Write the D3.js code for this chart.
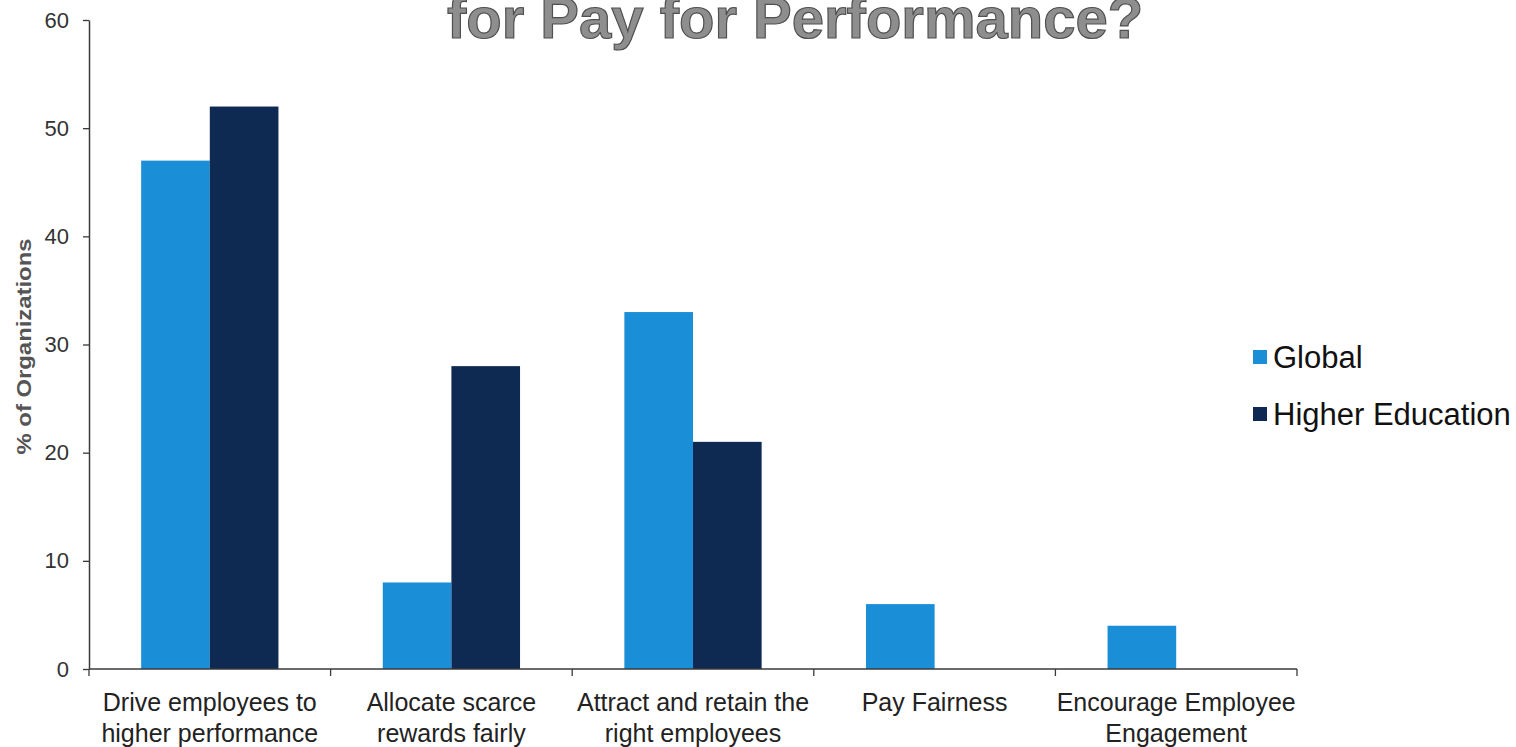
<!DOCTYPE html>
<html>
<head>
<meta charset="utf-8">
<script src="https://cdn.jsdelivr.net/npm/d3@7"></script>
<style>
  html, body { margin: 0; padding: 0; background: #fff; }
  svg { display: block; font-family: "Liberation Sans", Arial, sans-serif; }
</style>
</head>
<body>
<svg id="chart" width="1516" height="747"></svg>
<script>
// Survey results: purpose of pay for performance
const categories = [
  ["Drive employees to", "higher performance"],
  ["Allocate scarce", "rewards fairly"],
  ["Attract and retain the", "right employees"],
  ["Pay Fairness"],
  ["Encourage Employee", "Engagement"]
];
const seriesNames = ["Global", "Higher Education"];
const globalValues = [47, 8, 33, 6, 4];
const higherEdValues = [52, 28, 21, 0, 0];
const yTicks = [0, 10, 20, 30, 40, 50, 60];
const colors = ["#1a8ed6", "#0f2a52"];

const svg = d3.select("#chart");
const margin = { left: 89, right: 219, top: 20, bottom: 78 };
const W = 1516, H = 747;
const x0 = d3.scaleBand()
  .domain(d3.range(categories.length))
  .range([margin.left, W - margin.right])
  .padding(0);
const x1 = d3.scaleBand()
  .domain(seriesNames)
  .range([0, x0.bandwidth()])
  .paddingInner(0)
  .paddingOuter(0.76);
const y = d3.scaleLinear().domain([0, 60]).range([H - margin.bottom, margin.top]);

// Title (runs off the top edge of the page)
svg.append("text")
  .attr("x", 795).attr("y", 38)
  .attr("text-anchor", "middle")
  .attr("font-size", 58).attr("font-weight", "bold")
  .attr("fill", "#8e8e8e").attr("stroke", "#505050").attr("stroke-width", 1.2)
  .text("for Pay for Performance?");

// Bars
const rows = categories.map((c, i) => ({ i, vals: [globalValues[i], higherEdValues[i]] }));
const g = svg.append("g");
rows.forEach(r => {
  r.vals.forEach((v, s) => {
    if (v <= 0) return;
    g.append("rect")
      .attr("x", x0(r.i) + x1(seriesNames[s]))
      .attr("y", y(v))
      .attr("width", x1.bandwidth())
      .attr("height", y(0) - y(v))
      .attr("fill", colors[s]);
  });
});

// Y axis
const yAxis = svg.append("g")
  .attr("transform", `translate(${margin.left},0)`)
  .call(d3.axisLeft(y).tickValues(yTicks).tickSize(6).tickSizeOuter(0).tickPadding(14));
yAxis.select(".domain").attr("stroke", "#3a3a3a").attr("stroke-width", 1.5);
yAxis.selectAll(".tick line").attr("stroke", "#3a3a3a").attr("stroke-width", 1.3);
yAxis.selectAll(".tick text")
  .attr("font-size", 22).attr("fill", "#333")
  .attr("font-family", "Liberation Sans, Arial, sans-serif");

// X axis: boundary ticks between categories
const xb = d3.range(categories.length + 1).map(i =>
  i < categories.length ? x0(i) : x0(i - 1) + x0.bandwidth());
const xAxisG = svg.append("g");
xAxisG.append("line")
  .attr("x1", margin.left).attr("x2", xb[xb.length - 1])
  .attr("y1", y(0)).attr("y2", y(0))
  .attr("stroke", "#3a3a3a").attr("stroke-width", 1.5);
xAxisG.selectAll("line.tk").data(xb).enter().append("line")
  .attr("class", "tk")
  .attr("x1", d => d).attr("x2", d => d)
  .attr("y1", y(0)).attr("y2", y(0) + 7)
  .attr("stroke", "#3a3a3a").attr("stroke-width", 1.3);

// Category labels
categories.forEach((lines, i) => {
  const t = svg.append("text")
    .attr("x", x0(i) + x0.bandwidth() / 2)
    .attr("y", y(0) + 42)
    .attr("text-anchor", "middle")
    .attr("font-size", 25).attr("fill", "#222");
  lines.forEach((ln, k) => {
    t.append("tspan").attr("x", x0(i) + x0.bandwidth() / 2)
      .attr("dy", k === 0 ? 0 : 31).text(ln);
  });
});

// Y axis title
svg.append("text")
  .attr("transform", `translate(31, ${(y(0) + y(60)) / 2 + 2}) rotate(-90)`)
  .attr("text-anchor", "middle")
  .attr("font-size", 21).attr("font-weight", "bold").attr("fill", "#555")
  .attr("textLength", 216).attr("lengthAdjust", "spacingAndGlyphs")
  .text("% of Organizations");

// Legend
const legend = svg.append("g").attr("transform", "translate(1253, 0)");
seriesNames.forEach((name, s) => {
  const cy = 357 + s * 57;
  legend.append("rect")
    .attr("x", 0).attr("y", cy - 7).attr("width", 14).attr("height", 14)
    .attr("fill", colors[s]);
  legend.append("text")
    .attr("x", 20).attr("y", cy + 11)
    .attr("font-size", 31).attr("fill", "#111")
    .text(name);
});
</script>
</body>
</html>
